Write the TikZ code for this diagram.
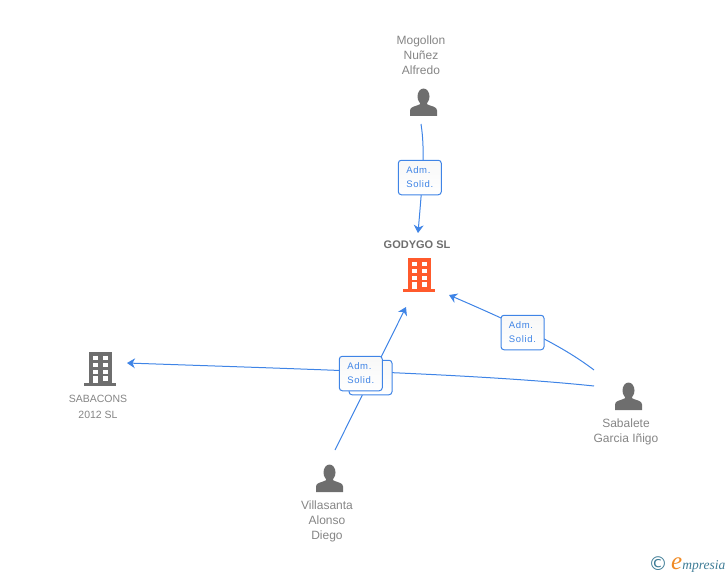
\documentclass[tikz,border=0pt]{standalone}
\usepackage{fontspec}
\usetikzlibrary{arrows.meta}
\setmainfont{Liberation Sans}
\newfontfamily\rolefont[LetterSpace=7]{Liberation Sans}
\newfontfamily\logofont{Liberation Serif}
\newfontfamily\copyfont{DejaVu Sans}
\definecolor{linkblue}{HTML}{3F84E6}
\definecolor{labelgray}{HTML}{858585}
\definecolor{icongray}{HTML}{6E6E6E}
\definecolor{firmorange}{HTML}{FF5A2C}
\definecolor{logoteal}{HTML}{3E7C96}
\definecolor{logoorange}{HTML}{F08A24}
\tikzset{
	name label/.style = {text=labelgray, font=\fontsize{12}{15}\selectfont, align=center, inner sep=0pt},
	role box/.style = {draw=linkblue, line width=1pt, rounded corners=3pt, top color=black!3, bottom color=white, minimum width=43pt, minimum height=34.5pt, inner sep=0pt, text=linkblue, font=\rolefont\fontsize{9.5}{14}\selectfont, align=left},
	link/.style = {draw=linkblue, line width=1pt, -{Stealth[length=8pt,width=10pt]}},
	icon/.style = {minimum width=32pt, minimum height=32pt, inner sep=0pt},
	pics/person/.style = {code={
		\fill[icongray] (0,-6) ellipse (6pt and 8pt);
		\fill[icongray] (-13.5,13.5) -- (-13.5,8) .. controls (-13.5,4) and (-8,4) .. (-4,2) -- (-3,0) -- (3,0) -- (4,2) .. controls (8,4) and (13.5,4) .. (13.5,8) -- (13.5,13.5) -- cycle;
	}},
	pics/building/.style = {code={
		\fill[#1] (-11.5,-17) rectangle (11.5,14);
		\fill[#1] (-16,14) rectangle (16,17);
		\foreach \row in {-13.5,-6.5,0.5} {
			\fill[white] (-7.5,\row) rectangle (-2.5,{\row+4.5}); %left window
			\fill[white] (2.5,\row) rectangle (7.5,{\row+4.5}); %right window
		}
		\fill[white] (-7.5,7) rectangle (-2.5,14); %door
		\fill[white] (2.5,7) rectangle (7.5,12);
	}}
}
\begin{document}
\begin{tikzpicture}[x=1pt, y=-1pt]
	\useasboundingbox (0,0) rectangle (728,575);

	% icons
	\node[icon] (godygo) at (419,275) {};
	\node[icon] (sabacons) at (100,369) {};
	\node[icon] (mogollon) at (423.5,102.5) {};
	\node[icon] (sabalete) at (628.5,396.5) {};
	\node[icon] (villasanta) at (329.5,478.5) {};
	\pic at (godygo) {building=firmorange};
	\pic at (sabacons) {building=icongray};
	\pic at (mogollon) {person};
	\pic at (sabalete) {person};
	\pic at (villasanta) {person};

	% free ends of the links
	\coordinate (mogollonOut) at (421,124);
	\coordinate (godygoTop) at (418,233);
	\coordinate (godygoRight) at (449,295);
	\coordinate (godygoLow) at (406,307);
	\coordinate (sabaconsIn) at (127,363);
	\coordinate (sabaleteUp) at (594,370);
	\coordinate (sabaleteOut) at (594,386);
	\coordinate (villasantaOut) at (335,450);

	% links
	\draw[link] (mogollonOut) .. controls (425,150) and (423,175) .. (godygoTop);
	\draw[link] (sabaleteUp) .. controls (565,348) and (530,330) .. (godygoRight);
	\draw[link] (sabaleteOut) .. controls (480,374) and (300,369) .. (sabaconsIn);
	\draw[link] (villasantaOut) -- (godygoLow);

	% role boxes
	\node[role box] (roleMogollon) at (419.8,177.5) {Adm.\\Solid.};
	\node[role box] (roleSabalete) at (522.5,332.5) {Adm.\\Solid.};
	\node[role box] (roleBack) at (370.5,377.5) {};
	\node[role box] (roleFront) at (360.8,373.5) {Adm.\\Solid.};

	% labels
	\node[name label] (mogollonName) at (421,55.5) {Mogollon\\Nuñez\\Alfredo};
	\node[name label, font=\bfseries\fontsize{11}{14}\selectfont, text=icongray] (godygoName) at (417,244.5) {GODYGO SL};
	\node[name label, font=\fontsize{10.5}{16}\selectfont] (sabaconsName) at (98,406.5) {SABACONS\\2012 SL};
	\node[name label] (sabaleteName) at (626,432) {Sabalete\\Garcia Iñigo};
	\node[name label] (villasantaName) at (327,521.5) {Villasanta\\Alonso\\Diego};

	% logo
	\node[inner sep=0pt, text=logoteal, font=\copyfont\fontsize{19}{19}\selectfont] (logoMark) at (658,564) {©};
	\node[inner sep=0pt, anchor=base west, text=logoteal, font=\logofont\itshape\fontsize{13.5}{14}\selectfont] (logoText) at (671,569) {{\color{logoorange}\fontsize{25}{25}\selectfont e}mpresia};
\end{tikzpicture}
\end{document}
